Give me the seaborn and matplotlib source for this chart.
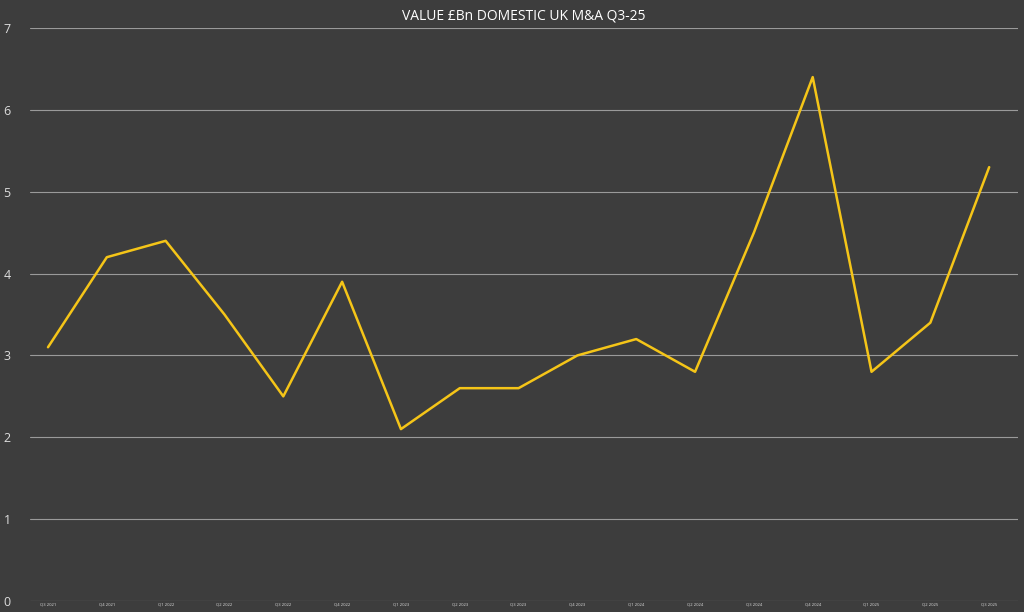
import matplotlib
matplotlib.use("Agg")
import matplotlib.pyplot as plt
import seaborn as sns
import pandas as pd

quarters = ["Q3 2021","Q4 2021","Q1 2022","Q2 2022","Q3 2022","Q4 2022","Q1 2023","Q2 2023",
            "Q3 2023","Q4 2023","Q1 2024","Q2 2024","Q3 2024","Q4 2024","Q1 2025","Q2 2025","Q3 2025"]
values = [3.1, 4.2, 4.4, 3.5, 2.5, 3.9, 2.1, 2.6, 2.6, 3.0, 3.2, 2.8, 4.5, 6.4, 2.8, 3.4, 5.3]

sns.set_style("dark")
plt.rcParams['font.family'] = ['Open Sans', 'DejaVu Sans']
bg = "#3d3d3d"
fig = plt.figure(figsize=(10.24, 6.12), dpi=100, facecolor=bg)
ax = fig.add_axes([30/1024, 11/612, 988/1024, 573/612])
ax.set_facecolor(bg)
df = pd.DataFrame({"q": range(len(quarters)), "v": values})
sns.lineplot(data=df, x="q", y="v", color="#f5c518", linewidth=1.8, ax=ax)
ax.set_xlim(-0.306, 16.49)
ax.set_ylim(0, 7)
ax.set_yticks(range(8))
ax.set_xticks(range(len(quarters)))
ax.set_xticklabels(quarters, fontsize=3, color="#dddddd")
ax.tick_params(axis="y", colors="#dddddd", labelsize=9, length=0, pad=14)
ax.tick_params(axis="x", length=0, pad=1)
ax.grid(axis="y", color="#9a9a9a", linewidth=0.8)
ax.grid(axis="x", visible=False)
for s in ax.spines.values():
    s.set_visible(False)
ax.set_xlabel(""); ax.set_ylabel("")
ax.set_title("VALUE £Bn DOMESTIC UK M&A Q3-25", color="white", fontsize=10, pad=6)
fig.savefig("out.png", dpi=100, facecolor=bg)
